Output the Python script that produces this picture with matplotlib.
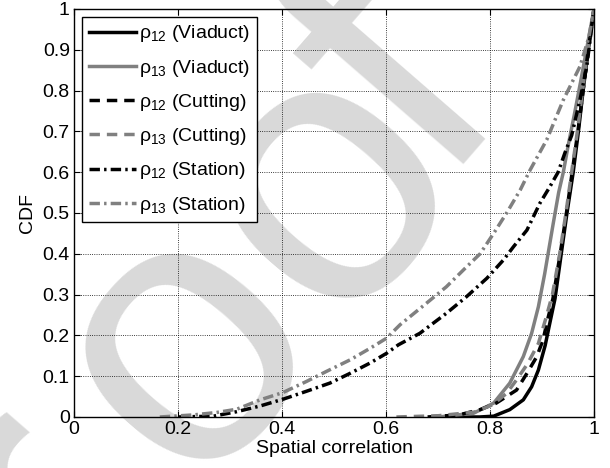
import numpy as np
import matplotlib
matplotlib.use("Agg")
import matplotlib.pyplot as plt

plt.rcParams['font.family'] = ['Liberation Sans', 'DejaVu Sans']
plt.rcParams['mathtext.default'] = 'regular'
plt.rcParams['font.size'] = 14

# (spatial correlation, CDF)
via12_x = [0.72, 0.78, 0.807, 0.838, 0.864, 0.880, 0.893, 0.906, 0.915, 0.925, 0.937, 0.948, 0.96, 0.97, 0.979, 0.989, 1.0]
via12_y = [0, 0, 0.002, 0.018, 0.042, 0.074, 0.115, 0.175, 0.23, 0.29, 0.40, 0.50, 0.60, 0.70, 0.80, 0.90, 1.0]
via13_x = [0.70, 0.768, 0.807, 0.838, 0.864, 0.880, 0.893, 0.905, 0.921, 0.932, 0.941, 0.951, 0.962, 0.974, 0.987, 1.0]
via13_y = [0, 0.009, 0.034, 0.083, 0.148, 0.205, 0.27, 0.35, 0.47, 0.55, 0.60, 0.67, 0.74, 0.82, 0.91, 1.0]
cut12_x = [0.68, 0.74, 0.781, 0.812, 0.851, 0.871, 0.890, 0.902, 0.912, 0.921, 0.935, 0.947, 0.958, 0.969, 0.979, 0.989, 1.0]
cut12_y = [0, 0.005, 0.018, 0.034, 0.066, 0.107, 0.148, 0.189, 0.245, 0.29, 0.40, 0.50, 0.60, 0.70, 0.80, 0.90, 1.0]
cut13_x = [0.62, 0.70, 0.77, 0.805, 0.832, 0.851, 0.872, 0.893, 0.907, 0.92, 0.934, 0.946, 0.957, 0.968, 0.978, 0.988, 1.0]
cut13_y = [0, 0.003, 0.012, 0.03, 0.058, 0.091, 0.13, 0.18, 0.24, 0.30, 0.40, 0.50, 0.60, 0.70, 0.80, 0.90, 1.0]
sta12_x = [0.20, 0.268, 0.313, 0.358, 0.403, 0.447, 0.492, 0.531, 0.569, 0.601, 0.624, 0.665, 0.716, 0.755, 0.794,
           0.826, 0.845, 0.871, 0.896, 0.915, 0.931, 0.944, 0.957, 0.973, 0.986, 1.0]
sta12_y = [0, 0.002, 0.013, 0.027, 0.044, 0.063, 0.083, 0.107, 0.132, 0.156, 0.177, 0.205, 0.254, 0.295, 0.34,
           0.385, 0.417, 0.458, 0.524, 0.564, 0.60, 0.647, 0.69, 0.777, 0.859, 1.0]
sta13_x = [0.165, 0.229, 0.274, 0.313, 0.358, 0.402, 0.447, 0.486, 0.531, 0.569, 0.601, 0.627, 0.678, 0.716, 0.755,
           0.781, 0.807, 0.832, 0.858, 0.877, 0.909, 0.941, 0.973, 0.99, 1.0]
sta13_y = [0, 0.005, 0.011, 0.019, 0.042, 0.06, 0.087, 0.112, 0.14, 0.168, 0.193, 0.226, 0.279, 0.319, 0.368,
           0.40, 0.45, 0.50, 0.556, 0.605, 0.679, 0.777, 0.859, 0.93, 1.0]

labels = ['ρ$_{12}$ (Viaduct)', 'ρ$_{13}$ (Viaduct)', 'ρ$_{12}$ (Cutting)',
          'ρ$_{13}$ (Cutting)', 'ρ$_{12}$ (Station)', 'ρ$_{13}$ (Station)']

# watermark letters and their baseline centres (pixels from top-left)
wm_letters = ['P', 'r', 'o', 'o', 'f']
wm_px = [(-10, 712), (114, 569), (260, 411), (402, 250), (475, 145)]

gray = '#808080'
dashed = (0, (3, 2))
dashdot = (0, (3, 1.2, 0.7, 1.2))

W, H = 610, 468
fig = plt.figure(figsize=(W / 100, H / 100), dpi=100)
for ch, (px, py) in zip(wm_letters, wm_px):
    fig.text(px / W, 1 - py / H, ch, fontsize=274, color='#d9d9d9', rotation=49,
             ha='center', va='baseline', rotation_mode='anchor', zorder=-1)

ax = fig.add_axes([0.1213, 0.109, 0.8525, 0.872])
ax.set_facecolor('none')
lw = 2.5
ax.plot(via12_x, via12_y, color='k', lw=lw, label=labels[0])
ax.plot(via13_x, via13_y, color=gray, lw=lw, label=labels[1])
ax.plot(cut12_x, cut12_y, color='k', lw=lw, ls=dashed, label=labels[2])
ax.plot(cut13_x, cut13_y, color=gray, lw=lw, ls=dashed, label=labels[3])
ax.plot(sta12_x, sta12_y, color='k', lw=lw, ls=dashdot, label=labels[4])
ax.plot(sta13_x, sta13_y, color=gray, lw=lw, ls=dashdot, label=labels[5])

ax.set_xlim(0, 1)
ax.set_ylim(0, 1)
ax.set_xticks(np.arange(0, 1.01, 0.2))
ax.set_yticks(np.arange(0, 1.01, 0.1))
ax.set_xticklabels(['0', '0.2', '0.4', '0.6', '0.8', '1'])
ax.set_yticklabels(['0', '0.1', '0.2', '0.3', '0.4', '0.5', '0.6', '0.7', '0.8', '0.9', '1'])
ax.tick_params(direction='in', top=True, right=True, length=4, width=0.8, pad=3)
ax.grid(True, ls=':', color='k', lw=0.6)
for s in ax.spines.values():
    s.set_linewidth(1.0)
ax.set_xlabel('Spatial correlation', labelpad=1)
ax.set_ylabel('CDF', labelpad=5)

leg = ax.legend(loc='upper left', fancybox=False, edgecolor='k', framealpha=1,
                handlelength=2.45, handletextpad=0.12, labelspacing=0.68,
                borderpad=0.35, borderaxespad=0.4)
leg.get_frame().set_linewidth(1.0)

fig.savefig('out.png', dpi=100)
